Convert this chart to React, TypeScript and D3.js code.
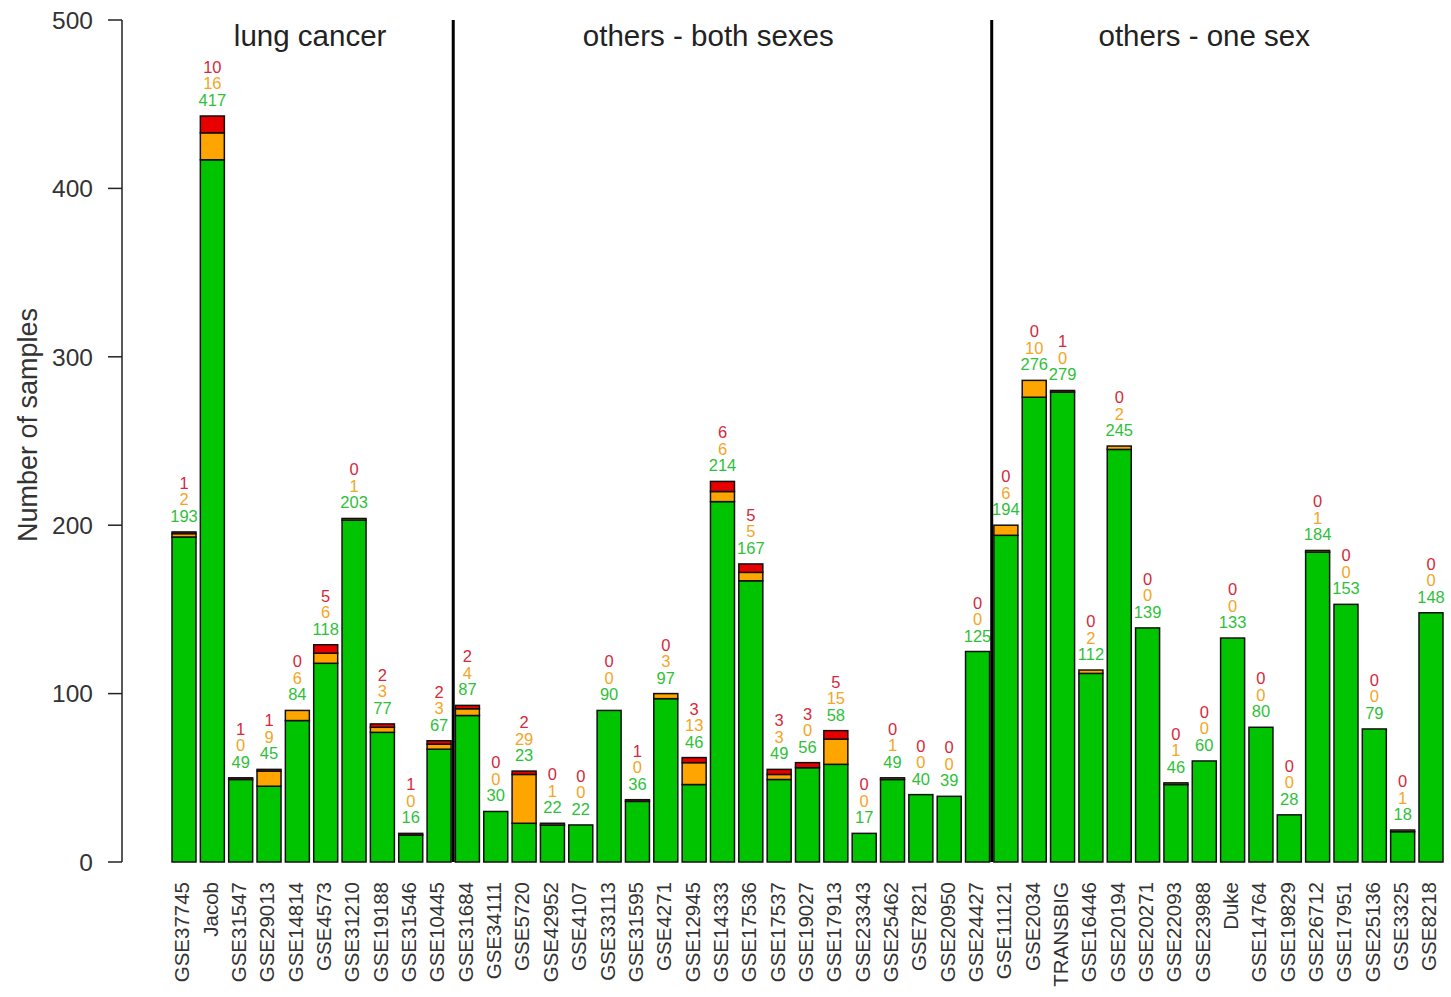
import React, { useEffect } from "react";
import * as d3 from "d3";

const categories = [
  "GSE37745", "Jacob", "GSE31547", "GSE29013", "GSE14814", "GSE4573", "GSE31210", "GSE19188", "GSE31546", "GSE10445",
  "GSE31684", "GSE34111", "GSE5720", "GSE42952", "GSE4107", "GSE33113", "GSE31595", "GSE4271", "GSE12945", "GSE14333",
  "GSE17536", "GSE17537", "GSE19027", "GSE17913", "GSE23343", "GSE25462", "GSE7821", "GSE20950", "GSE24427",
  "GSE11121", "GSE2034", "TRANSBIG", "GSE16446", "GSE20194", "GSE20271", "GSE22093", "GSE23988", "Duke", "GSE14764",
  "GSE19829", "GSE26712", "GSE17951", "GSE25136", "GSE3325", "GSE8218",
];

const greenValues = [
  193, 417, 49, 45, 84, 118, 203, 77, 16, 67,
  87, 30, 23, 22, 22, 90, 36, 97, 46, 214,
  167, 49, 56, 58, 17, 49, 40, 39, 125,
  194, 276, 279, 112, 245, 139, 46, 60, 133, 80,
  28, 184, 153, 79, 18, 148,
];

const orangeValues = [
  2, 16, 0, 9, 6, 6, 1, 3, 0, 3,
  4, 0, 29, 1, 0, 0, 0, 3, 13, 6,
  5, 3, 0, 15, 0, 1, 0, 0, 0,
  6, 10, 0, 2, 2, 0, 1, 0, 0, 0,
  0, 1, 0, 0, 1, 0,
];

const redValues = [
  1, 10, 1, 1, 0, 5, 0, 2, 1, 2,
  2, 0, 2, 0, 0, 0, 1, 0, 3, 6,
  5, 3, 3, 5, 0, 0, 0, 0, 0,
  0, 0, 1, 0, 0, 0, 0, 0, 0, 0,
  0, 0, 0, 0, 0, 0,
];

const groupNames = ["lung cancer", "others - both sexes", "others - one sex"];
// first category of each group
const groupStarts = ["GSE37745", "GSE31684", "GSE11121"];
// fractional category index where each group title is centred
const groupLabelAt = [4.45, 18.5, 36];

const yTicks = [0, 100, 200, 300, 400, 500];
const yTitle = "Number of samples";

const W = 1451;
const H = 997;
const FONT = "'Liberation Sans', Arial, sans-serif";
const COL_GREEN = "#00c400";
const COL_ORANGE = "#ffa500";
const COL_RED = "#e80000";
const TXT_GREEN = "#2fbf3a";
const TXT_ORANGE = "#f2a626";
const TXT_RED = "#d42a3c";

export default function App() {
  useEffect(() => {
    document.body.style.margin = "0";
  }, []);

  const x = d3
    .scaleBand<string>()
    .domain(categories)
    .range([170, 1445])
    .paddingInner(0.153)
    .paddingOuter(0.0706);
  const y = d3.scaleLinear().domain([0, 500]).range([862, 20]);
  const bw = x.bandwidth();
  const step = x.step();
  const axisX = 122;

  const centerAt = (f: number) => {
    const i0 = Math.floor(f);
    const frac = f - i0;
    const c0 = (x(categories[i0]) as number) + bw / 2;
    return c0 + frac * step;
  };

  const data = categories.map((c, i) => ({
    c,
    g: greenValues[i],
    o: orangeValues[i],
    r: redValues[i],
  }));

  return (
    <svg width={W} height={H} style={{ display: "block", background: "#fff" }} fontFamily={FONT}>
      {/* y axis */}
      <line x1={axisX} x2={axisX} y1={y(0)} y2={y(500)} stroke="#222" strokeWidth={1.5} />
      {yTicks.map((t) => (
        <g key={t}>
          <line x1={axisX - 14} x2={axisX} y1={y(t)} y2={y(t)} stroke="#222" strokeWidth={1.5} />
          <text x={93} y={y(t)} dy="0.36em" textAnchor="end" fontSize={24.5} fill="#333">
            {t}
          </text>
        </g>
      ))}
      <text
        transform={`translate(37, ${(y(0) + y(500)) / 2 - 16}) rotate(-90)`}
        textAnchor="middle"
        fontSize={27}
        fill="#333"
      >
        {yTitle}
      </text>

      {/* bars */}
      {data.map((d) => {
        const x0 = x(d.c) as number;
        const segs = [
          { v0: 0, v1: d.g, col: COL_GREEN },
          { v0: d.g, v1: d.g + d.o, col: COL_ORANGE },
          { v0: d.g + d.o, v1: d.g + d.o + d.r, col: COL_RED },
        ];
        return (
          <g key={d.c}>
            {segs.map((s, k) => (
              <rect
                key={k}
                x={x0}
                y={y(s.v1)}
                width={bw}
                height={y(s.v0) - y(s.v1)}
                fill={s.col}
                stroke="#111"
                strokeWidth={1.5}
              />
            ))}
          </g>
        );
      })}

      {/* value labels */}
      {data.map((d) => {
        const cx = (x(d.c) as number) + bw / 2;
        const top = y(d.g + d.o + d.r);
        return (
          <g key={d.c + "-lab"} fontSize={16.5} textAnchor="middle">
            <text x={cx} y={top - 10} fill={TXT_GREEN}>{d.g}</text>
            <text x={cx} y={top - 26.5} fill={TXT_ORANGE}>{d.o}</text>
            <text x={cx} y={top - 43} fill={TXT_RED}>{d.r}</text>
          </g>
        );
      })}

      {/* group separators */}
      {groupStarts.slice(1).map((c) => {
        const sx = (x(c) as number) - (step - bw) / 2;
        return <line key={c} x1={sx} x2={sx} y1={y(0)} y2={y(500)} stroke="#000" strokeWidth={3} />;
      })}

      {/* group titles */}
      {groupNames.map((n, i) => (
        <text key={n} x={centerAt(groupLabelAt[i])} y={46} textAnchor="middle" fontSize={29.5} fill="#222">
          {n}
        </text>
      ))}

      {/* category labels */}
      {categories.map((c) => {
        const cx = (x(c) as number) + bw / 2;
        return (
          <text
            key={c + "-x"}
            transform={`translate(${cx - 2}, 882) rotate(-90)`}
            dy="0.36em"
            textAnchor="end"
            fontSize={20.5}
            fill="#333"
          >
            {c}
          </text>
        );
      })}
    </svg>
  );
}
